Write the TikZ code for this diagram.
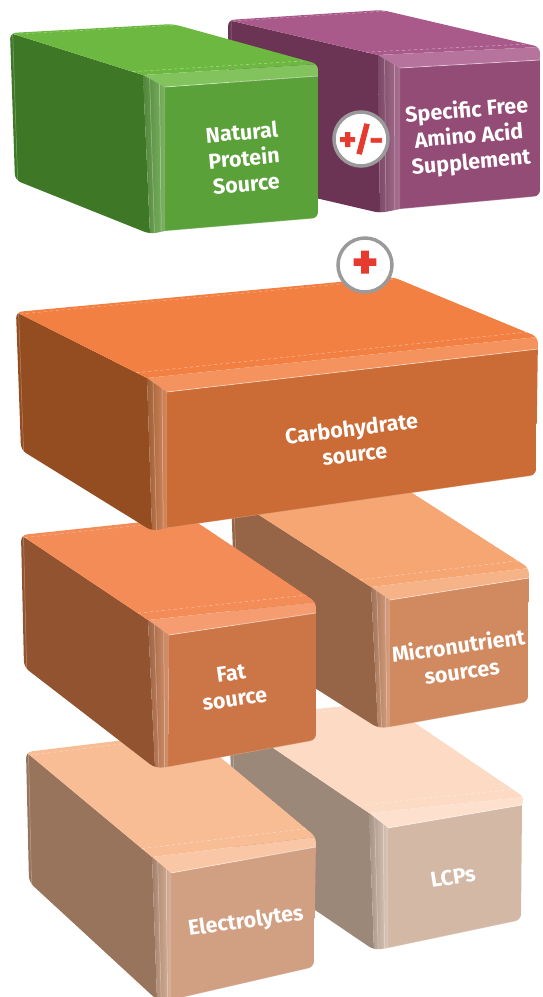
\documentclass[tikz,border=0pt]{standalone}
\usepackage{fontspec}
\setmainfont{Fira Sans}
\newfontfamily\heavyfont[FakeBold=2.5]{Fira Sans Bold}
\usetikzlibrary{calc}
\definecolor{gTop}{HTML}{6CB840}\definecolor{gLeft}{HTML}{3E7826}\definecolor{gFront}{HTML}{5BA13A}
\definecolor{pTop}{HTML}{A95A8B}\definecolor{pLeft}{HTML}{6C3454}\definecolor{pFront}{HTML}{934C75}
\definecolor{cTop}{HTML}{F38043}\definecolor{cLeft}{HTML}{944D20}\definecolor{cFront}{HTML}{CB6B35}
\definecolor{fTop}{HTML}{F38C57}\definecolor{fLeft}{HTML}{925430}\definecolor{fFront}{HTML}{CC7647}
\definecolor{mTop}{HTML}{F6A673}\definecolor{mLeft}{HTML}{966447}\definecolor{mFront}{HTML}{D1895F}
\definecolor{eTop}{HTML}{F9BD96}\definecolor{eLeft}{HTML}{98745C}\definecolor{eFront}{HTML}{D19F81}
\definecolor{lTop}{HTML}{FDDAC4}\definecolor{lLeft}{HTML}{9C8879}\definecolor{lFront}{HTML}{D4B8A6}
\definecolor{ringgray}{HTML}{9A9A9A}
\definecolor{signred}{HTML}{E63A2F}
\tikzset{
  lbl/.style={text=white, font=\fontsize{21.5}{26}\selectfont\bfseries, align=center, inner sep=0pt},
  signcircle/.style={circle, draw=ringgray, line width=3.5pt, fill=white, minimum size=54pt, inner sep=0pt, text=signred},
}
\newcommand{\cubebox}[4]{%
  \begin{scope}
  \clip[rounded corners=6pt] (#1blt) -- (#1brt) -- (#1frt) -- (#1frb) -- (#1filb) -- (#1flb) -- (#1blb) -- cycle;
  \fill[#3] (#1blt) -- (#1blb) -- (#1flb) -- (#1flt) -- cycle;
  \fill[#2] (#1blt) -- (#1flt) -- (#1frt) -- (#1brt) -- cycle;
  \fill[#4] (#1filt) -- (#1firt) -- (#1frb) -- (#1filb) -- cycle;
  \fill[#2!85!white] (#1flt) -- (#1frt) -- (#1firt) -- (#1filt) -- cycle;
  \shade[left color=#3!90!white, right color=#4!80!white] (#1flt) -- (#1filt) -- (#1filb) -- (#1flb) -- cycle;
  \draw[white, opacity=.5, line width=.5pt, dashed] ($(#1flt)!.08!(#1blt)$) -- ($(#1frt)!.08!(#1brt)$);
  \draw[white, opacity=.4, line width=.5pt, dashed] ($(#1blt)!.03!(#1flt)$) -- ($(#1brt)!.03!(#1frt)$);
  \draw[white, opacity=.55, line width=.7pt] (#1filt) -- (#1firt);
  \draw[white, opacity=.35, line width=.7pt] (#1filb) -- (#1frb);
  \draw[white, opacity=.4, line width=.5pt] ($(#1flt)!.3!(#1filt)$) -- ($(#1flb)!.3!(#1filb)$);
  \draw[white, opacity=.5, line width=.5pt] ($(#1flt)!.75!(#1filt)$) -- ($(#1flb)!.75!(#1filb)$);
  \draw[white, opacity=.35, line width=.5pt] ($(#1blt)!.02!(#1flt)$) -- ($(#1blb)!.02!(#1flb)$);
  \end{scope}
}
\begin{document}
\begin{tikzpicture}[x=1pt,y=-1pt]
\useasboundingbox (0,0) rectangle (542,997);
% ---------- purple box
\coordinate (pblt) at (228,20);  \coordinate (pbrt) at (382,10);
\coordinate (pfrt) at (540,47);  \coordinate (pflt) at (378,55);
\coordinate (pblb) at (230,178); \coordinate (pflb) at (380,213);
\coordinate (pfilt) at (400,68); \coordinate (pfirt) at (540,60);
\coordinate (pfrb) at (540,196); \coordinate (pfilb) at (400,209);
\cubebox{p}{pTop}{pLeft}{pFront}
% ---------- green box
\coordinate (gblt) at (10,33);   \coordinate (gbrt) at (173,24);
\coordinate (gfrt) at (318,64);  \coordinate (gflt) at (143,75);
\coordinate (gblb) at (15,180);  \coordinate (gflb) at (150,234);
\coordinate (gfilt) at (165,87); \coordinate (gfirt) at (318,76);
\coordinate (gfrb) at (318,218); \coordinate (gfilb) at (165,231);
\cubebox{g}{gTop}{gLeft}{gFront}
\node[lbl, rotate=5] (tgreen) at (244,158) {Natural\\Protein\\Source};
\node[lbl, rotate=5] (tpurple) at (469,137) {Specific Free\\Amino Acid\\Supplement};
\node[signcircle, font=\heavyfont\fontsize{33}{33}\selectfont] (pm) at (361,139) {+/-};
% ---------- LCPs box
\coordinate (lblt) at (229,718); \coordinate (lbrt) at (384,702);
\coordinate (lfrt) at (524,797); \coordinate (lflt) at (369,813);
\coordinate (lblb) at (234,855); \coordinate (lflb) at (374,950);
\coordinate (lfilt) at (388,828);\coordinate (lfirt) at (522,805);
\coordinate (lfrb) at (521,920); \coordinate (lfilb) at (388,948);
\cubebox{l}{lTop}{lLeft}{lFront}
\node[lbl, rotate=9] (tlcp) at (453,877) {LCPs};
% ---------- Electrolytes box
\coordinate (eblt) at (26,752);  \coordinate (ebrt) at (190,732);
\coordinate (efrt) at (316,837); \coordinate (eflt) at (152,857);
\coordinate (eblb) at (29,882);  \coordinate (eflb) at (157,1000);
\coordinate (efilt) at (171,873);\coordinate (efirt) at (316,847);
\coordinate (efrb) at (314,967); \coordinate (efilb) at (171,1000);
\cubebox{e}{eTop}{eLeft}{eFront}
\node[lbl, rotate=8] (telec) at (246,922) {Electrolytes};
% ---------- Micronutrient box
\coordinate (mblt) at (231,497); \coordinate (mbrt) at (389,478);
\coordinate (mfrt) at (529,568); \coordinate (mflt) at (371,587);
\coordinate (mblb) at (236,638); \coordinate (mflb) at (378,728);
\coordinate (mfilt) at (390,600);\coordinate (mfirt) at (529,578);
\coordinate (mfrb) at (528,702); \coordinate (mfilb) at (390,727);
\cubebox{m}{mTop}{mLeft}{mFront}
\node[lbl, rotate=8] (tmicro) at (460,658) {Micronutrient\\sources};
% ---------- Fat box
\coordinate (fblt) at (21,535);  \coordinate (fbrt) at (189,517);
\coordinate (ffrt) at (316,602); \coordinate (fflt) at (148,620);
\coordinate (fblb) at (24,667);  \coordinate (fflb) at (155,768);
\coordinate (ffilt) at (169,635);\coordinate (ffirt) at (316,613);
\coordinate (ffrb) at (316,740); \coordinate (ffilb) at (168,767);
\cubebox{f}{fTop}{fLeft}{fFront}
\node[lbl, rotate=8] (tfat) at (233,686) {Fat\\source};
% ---------- Carbohydrate box
\coordinate (cblt) at (16,312);  \coordinate (cbrt) at (393,277);
\coordinate (cfrt) at (538,337); \coordinate (cflt) at (147,378);
\coordinate (cblb) at (21,450);  \coordinate (cflb) at (152,531);
\coordinate (cfilt) at (167,392);\coordinate (cfirt) at (538,349);
\coordinate (cfrb) at (536,475); \coordinate (cfilb) at (167,528);
\cubebox{c}{cTop}{cLeft}{cFront}
\node[lbl, rotate=7] (tcarb) at (353,441) {Carbohydrate\\source};
\node[signcircle, font=\heavyfont\fontsize{50}{50}\selectfont] (plus) at (365,265) {+};
\end{tikzpicture}
\end{document}
